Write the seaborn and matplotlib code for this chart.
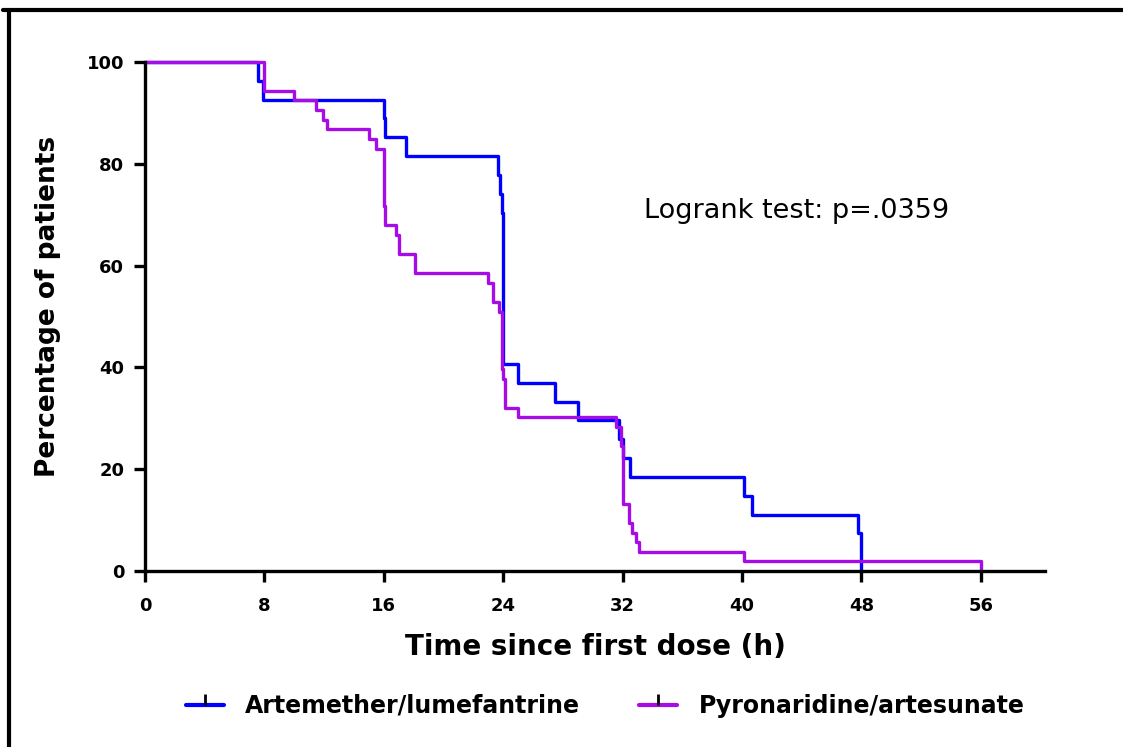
import numpy as np
import pandas as pd
import matplotlib
matplotlib.use("Agg")
import matplotlib.pyplot as plt
from matplotlib.lines import Line2D
import seaborn as sns

sns.set_style("ticks")
plt.rcParams['font.family'] = ['DejaVu Sans']
plt.rcParams['text.color'] = 'black'
plt.rcParams['axes.labelcolor'] = 'black'
plt.rcParams['xtick.color'] = 'black'
plt.rcParams['ytick.color'] = 'black'
plt.rcParams['axes.edgecolor'] = 'black'

# Kaplan-Meier steps (hours, % of patients still positive)
al_time = [0, 7.6, 7.9, 16.0, 16.1, 17.5, 23.65, 23.8, 23.9, 24.0, 25.0, 27.5,
           29.0, 31.75, 32.0, 32.5, 40.1, 40.7, 47.8, 48.0]
al_pct = [100, 96.3, 92.6, 88.9, 85.2, 81.5, 77.8, 74.1, 70.4, 40.7, 37.0, 33.3,
          29.6, 25.9, 22.2, 18.5, 14.8, 11.1, 7.4, 0]

pa_time = [0, 8.0, 10.0, 11.45, 11.95, 12.2, 15.0, 15.5, 16.0, 16.1, 16.8, 17.0,
           18.1, 23.0, 23.3, 23.7, 23.95, 24.0, 24.15, 25.0, 31.55, 31.9, 32.0,
           32.4, 32.6, 32.9, 33.1, 40.1, 56.0]
pa_pct = [100, 94.3, 92.5, 90.6, 88.7, 86.8, 84.9, 83.0, 71.7, 67.9, 66.0, 62.3,
          58.5, 56.6, 52.8, 50.9, 39.6, 37.7, 32.1, 30.2, 28.3, 24.5, 13.2,
          9.4, 7.5, 5.7, 3.8, 1.9, 0]

groups = ["Artemether/lumefantrine", "Pyronaridine/artesunate"]
colors = {"Artemether/lumefantrine": "#0000FF", "Pyronaridine/artesunate": "#A50CE6"}
x_ticks = [0, 8, 16, 24, 32, 40, 48, 56]
y_ticks = [0, 20, 40, 60, 80, 100]

df = pd.concat([
    pd.DataFrame({"time": al_time, "pct": al_pct, "group": groups[0]}),
    pd.DataFrame({"time": pa_time, "pct": pa_pct, "group": groups[1]}),
], ignore_index=True)

fig = plt.figure(figsize=(11.23, 7.47), dpi=100)
ax = fig.add_axes([145/1123, 1-571/747, 900/1123, 509/747])

sns.lineplot(data=df, x="time", y="pct", hue="group", palette=colors,
             estimator=None, sort=False, drawstyle="steps-post", lw=2.4,
             clip_on=False, legend=False, ax=ax)

ax.set_xlim(0, 60.3)
ax.set_ylim(0, 100)
ax.set_xticks(x_ticks)
ax.set_yticks(y_ticks)
sns.despine(ax=ax)
for s in ["left", "bottom"]:
    ax.spines[s].set_linewidth(2.4)
ax.tick_params(direction="out", length=8, width=2.4, labelsize=13, pad=7)
ax.tick_params(axis="x", pad=11)
for lab in ax.get_xticklabels() + ax.get_yticklabels():
    lab.set_fontweight("bold")
ax.set_xlabel("Time since first dose (h)", fontsize=20, fontweight="bold", labelpad=13)
ax.set_ylabel("Percentage of patients", fontsize=19, fontweight="bold", labelpad=12)
ax.yaxis.set_label_coords(-0.093, 0.52)

ax.text(33.4, 70.7, "Logrank test: p=.0359", fontsize=19.5, va="center", ha="left")

handles = []
for g in groups:
    line = Line2D([], [], color=colors[g], lw=3)
    tick = Line2D([], [], color="black", marker=2, markersize=8, mew=2, ls="none")
    handles.append((line, tick))
fig.legend(handles, groups, loc="center", bbox_to_anchor=(0.539, 0.055), ncol=2,
           frameon=False, handlelength=1.6, handletextpad=0.9, columnspacing=2.5,
           prop={"size": 17, "weight": "bold"})

# page border on top and left
fig.add_artist(Line2D([3/1123, 1], [1-10/747, 1-10/747], transform=fig.transFigure,
                      color="black", lw=3))
fig.add_artist(Line2D([9/1123, 9/1123], [0, 1-10/747], transform=fig.transFigure,
                      color="black", lw=3))

fig.savefig("out.png", dpi=100)
